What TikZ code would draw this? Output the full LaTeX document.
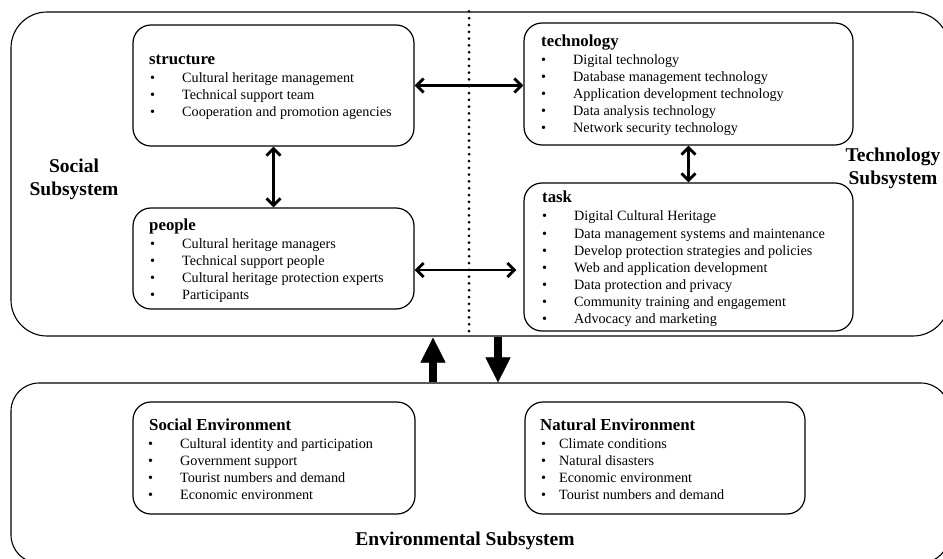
\documentclass[tikz,border=0pt]{standalone}
\usepackage{fontspec}
\setmainfont{Liberation Serif}
\usetikzlibrary{arrows.meta,calc}
\begin{document}
\begin{tikzpicture}[x=1pt,y=-1pt,
  outer/.style={draw, line width=1.1pt, rounded corners=36pt, inner sep=0pt},
  inbox/.style={draw, line width=1.2pt, rounded corners=18pt, inner sep=0pt},
  ttl/.style={anchor=base west, inner sep=0pt, font=\fontsize{16.8}{20}\selectfont\bfseries},
  itm/.style={anchor=base west, inner sep=0pt, font=\fontsize{14.2}{17}\selectfont},
  lbl/.style={inner sep=0pt, align=center, font=\fontsize{19.5}{23}\selectfont\bfseries},
  dbl/.style={line width=2.8pt, {Straight Barb[length=7pt,width=14pt]}-{Straight Barb[length=7pt,width=14pt]}},
  big/.style={line width=8pt, -{Triangle[length=25pt,width=25pt,line width=0.5pt]}}
]
\useasboundingbox (0,0) rectangle (943,559);
\clip (0,0) rectangle (943,559);

% outer subsystems
\node[outer, minimum width=938pt, minimum height=324pt] (sociotech) at (480,174) {};
\node[outer, rounded corners=28pt, minimum width=938pt, minimum height=180pt] (envsys) at (480,473) {};

% dotted divider
\coordinate (dx) at (469,0);
\draw[line width=3pt, line cap=round, dash pattern=on 0pt off 6.8pt] (sociotech.north -| dx) -- (sociotech.south -| dx);

% inner boxes
\node[inbox, minimum width=281pt, minimum height=121pt] (structure) at (273.5,85.5) {};
\node[inbox, minimum width=281pt, minimum height=101pt] (people) at (273.5,258.5) {};
\node[inbox, minimum width=329pt, minimum height=122pt] (technology) at (688.5,84) {};
\node[inbox, minimum width=329pt, minimum height=148pt] (task) at (688.5,257) {};
\node[inbox, minimum width=282pt, minimum height=112pt] (socenv) at (274,458) {};
\node[inbox, minimum width=280pt, minimum height=112pt] (natenv) at (665,458) {};

% titles
\node[ttl] (structureT) at (149,65) {structure};
\node[ttl] (peopleT) at (149,230) {people};
\node[ttl] (technologyT) at (541,47) {technology};
\node[ttl] (taskT) at (542,202) {task};
\node[ttl] (socenvT) at (149,430) {Social Environment};
\node[ttl] (natenvT) at (540,430) {Natural Environment};

% items
\foreach \t [count=\i] in {Cultural heritage management, Technical support team, Cooperation and promotion agencies}
  \node[itm] (st\i) at (150,{83+17*(\i-1)}) {\makebox[32pt][l]{\textbullet}\t};
\foreach \t [count=\i] in {Cultural heritage managers, Technical support people, Cultural heritage protection experts, Participants}
  \node[itm] (pe\i) at (150,{248+17*(\i-1)}) {\makebox[32pt][l]{\textbullet}\t};
\foreach \t [count=\i] in {Digital technology, Database management technology, Application development technology, Data analysis technology, Network security technology}
  \node[itm] (te\i) at (541,{65+17*(\i-1)}) {\makebox[32pt][l]{\textbullet}\t};
\foreach \t [count=\i] in {Digital Cultural Heritage, Data management systems and maintenance, Develop protection strategies and policies, Web and application development, Data protection and privacy, Community training and engagement, Advocacy and marketing}
  \node[itm] (ta\i) at (542,{221+17*(\i-1)}) {\makebox[32pt][l]{\textbullet}\t};
\foreach \t [count=\i] in {Cultural identity and participation, Government support, Tourist numbers and demand, Economic environment}
  \node[itm] (se\i) at (148,{448+17*(\i-1)}) {\makebox[32pt][l]{\textbullet}\t};
\foreach \t [count=\i] in {Climate conditions, Natural disasters, Economic environment, Tourist numbers and demand}
  \node[itm] (ne\i) at (541,{448+17*(\i-1)}) {\makebox[18pt][l]{\textbullet}\t};

% subsystem labels
\node[lbl] (socialL) at (74,179) {Social\\Subsystem};
\node[lbl] (techL) at (893,168) {Technology\\Subsystem};
\node[lbl, anchor=base] (envL) at (465,545) {Environmental Subsystem};

% connectors
\draw[dbl] (structure.east) -- (structure.east -| technology.west);
\draw[dbl] (structure) -- (people);
\draw[dbl] (technology) -- (task);
\draw[dbl, shorten >=7pt] ([yshift=-11.5pt]people.east) -- ([yshift=-11.5pt]people.east -| task.west);

% exchange with environment
\coordinate (upx) at (433,0);
\coordinate (dnx) at (498,0);
\draw[big, shorten >=1pt] (envsys.north -| upx) -- (sociotech.south -| upx);
\draw[big] (sociotech.south -| dnx) -- (envsys.north -| dnx);
\end{tikzpicture}
\end{document}
